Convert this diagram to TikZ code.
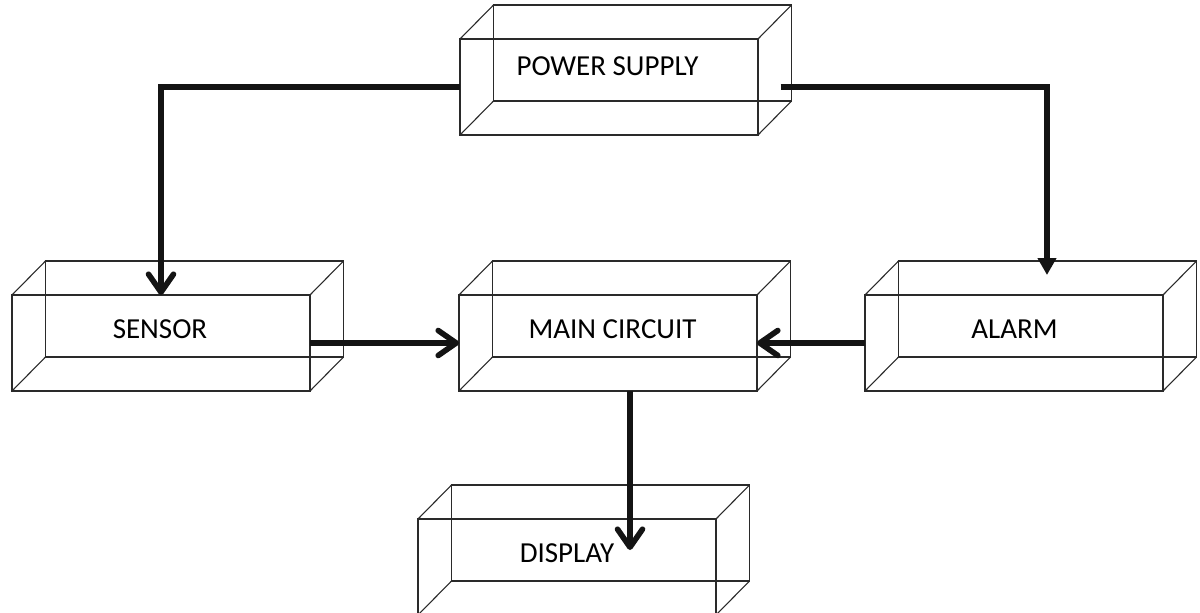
\documentclass[tikz,border=0pt]{standalone}
\usepackage{fontspec}
\setmainfont{Carlito}
\usetikzlibrary{arrows.meta,calc}
\definecolor{edge}{HTML}{2A2A2A}
\definecolor{ink}{HTML}{141414}
\tikzset{
  face/.style={draw=edge, line width=1.1pt, minimum width=298pt, minimum height=96pt,
               inner sep=0pt, outer sep=0pt, anchor=north west},
  wire/.style={draw=edge, line width=1.1pt},
  caption/.style={font=\fontsize{29}{34}\selectfont, text=black, inner sep=0pt},
  conn/.style={draw=ink, line width=5.6pt,
               -{Straight Barb[length=18pt,width=25pt,round]}},
  feed/.style={draw=ink, line width=5.8pt, -{Triangle[width=18pt,length=17pt]}}
}
\begin{document}
\begin{tikzpicture}[x=1pt,y=-1pt]
\useasboundingbox (0,0) rectangle (1200,613);

% front faces of the cuboids
\node[face] (ps)      at (460,39)  {};
\node[face] (sensor)  at (12,295)  {};
\node[face] (main)    at (459,295) {};
\node[face] (alarm)   at (865,295) {};
\node[face] (display) at (418,519) {};

% back faces and depth edges
\foreach \n in {ps,sensor,main,alarm,display}{
  \draw[wire] ([shift={(33.5pt,34pt)}]\n.north west) rectangle ([shift={(33.5pt,34pt)}]\n.south east);
  \foreach \c in {north west,north east,south west,south east}
    \draw[wire] (\n.\c) -- ++(33.5pt,34pt);
}

% labels
\node[caption] (ps-t)      at (607.5,66) {POWER SUPPLY};
\node[caption] (sensor-t)  at (160,329)  {SENSOR};
\node[caption] (main-t)    at (612.5,329) {MAIN CIRCUIT};
\node[caption] (alarm-t)   at (1014.5,329) {ALARM};
\node[caption] (display-t) at (567,553)  {DISPLAY};

% connector end points
\coordinate (ps-out)   at ([xshift=22.5pt]ps.east);
\coordinate (alarm-in) at ([xshift=33pt,yshift=20pt]alarm.north);
\coordinate (main-out) at ([xshift=22pt]main.south);
\coordinate (disp-in)  at ([xshift=63pt,yshift=17pt]display.center);

% connectors
\draw[conn] (ps.west) -| (sensor.north);
\draw[feed] (ps-out) -| (alarm-in);
\draw[conn] (sensor.east) -- (main.west);
\draw[conn] (alarm.west) -- (main.east);
\draw[conn] (main-out) -- (main-out |- disp-in);
\end{tikzpicture}
\end{document}
